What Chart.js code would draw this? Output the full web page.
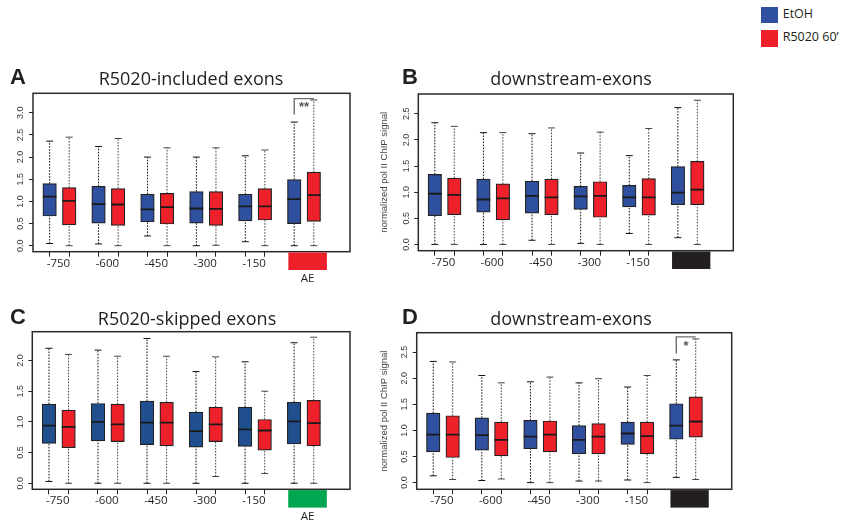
<!DOCTYPE html>
<html><head><meta charset="utf-8">
<script src="https://cdn.jsdelivr.net/npm/chart.js@4.4.1/dist/chart.umd.min.js"></script>
<style>
html,body{margin:0;padding:0;background:#fff;}
body{width:841px;height:522px;position:relative;overflow:hidden;}
canvas{position:absolute;}
.t{position:absolute;white-space:nowrap;color:#231f20;line-height:1;}
.title{font-family:"Open Sans",sans-serif;font-size:18px;transform:translateX(-50%);}
.let{font-family:"Liberation Sans",Arial,sans-serif;font-weight:bold;font-size:22px;}
.lg{position:absolute;width:17.6px;height:16.6px;}
.lgt{font-family:"Open Sans",sans-serif;font-size:12.5px;}
</style></head>
<body>
<canvas id="cA" width="365" height="240" style="left:0;top:60px"></canvas>
<canvas id="cB" width="380" height="240" style="left:365px;top:60px"></canvas>
<canvas id="cC" width="365" height="222" style="left:0;top:300px"></canvas>
<canvas id="cD" width="380" height="222" style="left:365px;top:300px"></canvas>

<div class="t let" style="left:10px;top:66px">A</div>
<div class="t title" style="left:191px;top:69px">R5020-included exons</div>
<div class="t let" style="left:402px;top:66px">B</div>
<div class="t title" style="left:571px;top:69px">downstream-exons</div>
<div class="t let" style="left:10px;top:306px">C</div>
<div class="t title" style="left:187px;top:309px">R5020-skipped exons</div>
<div class="t let" style="left:402px;top:306px">D</div>
<div class="t title" style="left:571px;top:309px">downstream-exons</div>

<div class="lg" style="left:760.7px;top:6.7px;background:#2f4f9f"></div>
<div class="t lgt" style="left:782.7px;top:8px">EtOH</div>
<div class="lg" style="left:760.7px;top:30px;background:#ee2029"></div>
<div class="t lgt" style="left:782.7px;top:31px">R5020 60’</div>

<script>
// ---------- data ----------
const categories = ['-750', '-600', '-450', '-300', '-150', 'AE'];
const seriesNames = ['EtOH', 'R5020 60’'];
const yTicksA = [0, 0.5, 1, 1.5, 2, 2.5, 3];
const yTicksB = [0, 0.5, 1, 1.5, 2, 2.5];
const yTicksC = [0, 0.5, 1, 1.5, 2];
const yTicksD = [0, 0.5, 1, 1.5, 2, 2.5];
// each box: [lower whisker, Q1, median, Q3, upper whisker]
const aEtoh  = [[0.05,0.67,1.11,1.40,2.36],[0.04,0.51,0.94,1.34,2.24],[0.22,0.54,0.82,1.16,2.00],[0.00,0.51,0.84,1.22,2.00],[0.09,0.56,0.89,1.16,2.03],[0.00,0.50,1.05,1.49,2.79]];
const aR5020 = [[0.00,0.47,1.01,1.31,2.45],[0.00,0.46,0.93,1.29,2.42],[0.00,0.49,0.87,1.18,2.21],[0.01,0.46,0.83,1.22,2.21],[0.00,0.58,0.89,1.29,2.16],[0.00,0.55,1.14,1.66,3.29]];
const bEtoh  = [[0.00,0.55,0.97,1.34,2.33],[0.00,0.62,0.86,1.25,2.14],[0.08,0.60,0.93,1.21,2.12],[0.02,0.67,0.92,1.11,1.75],[0.21,0.72,0.90,1.13,1.70],[0.13,0.76,0.99,1.49,2.62]];
const bR5020 = [[0.00,0.57,0.95,1.27,2.26],[0.00,0.47,0.88,1.16,2.14],[0.00,0.57,0.90,1.25,2.23],[0.00,0.52,0.93,1.20,2.15],[0.00,0.56,0.90,1.26,2.22],[0.00,0.76,1.05,1.59,2.76]];
const cEtoh  = [[0.03,0.65,0.94,1.29,2.20],[0.00,0.69,1.00,1.30,2.17],[0.00,0.63,0.99,1.34,2.36],[0.00,0.59,0.85,1.16,1.82],[0.00,0.60,0.88,1.24,1.98],[0.00,0.64,1.01,1.32,2.29]];
const cR5020 = [[0.00,0.58,0.92,1.19,2.10],[0.00,0.68,0.96,1.29,2.07],[0.00,0.61,0.99,1.32,2.07],[0.11,0.68,0.96,1.24,2.06],[0.16,0.54,0.86,1.04,1.50],[0.00,0.61,0.98,1.35,2.38]];
const dEtoh  = [[0.13,0.59,0.92,1.33,2.32],[0.04,0.62,0.91,1.24,2.05],[0.00,0.65,0.88,1.19,1.93],[0.03,0.55,0.82,1.09,1.91],[0.05,0.73,0.94,1.16,1.83],[0.10,0.83,1.09,1.51,2.35]];
const dR5020 = [[0.06,0.48,0.92,1.28,2.31],[0.07,0.51,0.82,1.16,1.91],[0.00,0.59,0.92,1.18,2.02],[0.03,0.55,0.88,1.13,1.99],[0.00,0.55,0.89,1.16,2.05],[0.06,0.87,1.17,1.64,2.75]];
// significance brackets: [label, lower end, bracket top]
const sigA = ['**', 2.96, 3.32];
const sigD = ['*', 2.47, 2.79];

// ---------- drawing ----------
const RED = '#ee2029';
const pos = (i, s) => 1 + 2.5 * i + s;   // box position on x scale
const labelPos = i => 1.45 + 2.5 * i;

const extras = {
  id: 'extras',
  afterDraw(chart, args, o) {
    const {ctx, chartArea: a, scales: {x, y}} = chart;
    ctx.save();
    ctx.strokeStyle = '#2a2a2a';
    ctx.lineWidth = 1.5;
    ctx.strokeRect(a.left, a.top, a.right - a.left, a.bottom - a.top);
    const x0 = x.getPixelForValue(13.2), x1 = x.getPixelForValue(15.17);
    ctx.fillStyle = o.rectColor;
    ctx.fillRect(x0, a.bottom + 0.8, x1 - x0, 17.5);
    if (o.rectLabel) {
      ctx.fillStyle = '#231f20';
      ctx.font = '11.5px "Open Sans"';
      ctx.textAlign = 'center';
      ctx.textBaseline = 'middle';
      ctx.fillText(o.rectLabel, (x0 + x1) / 2, a.bottom + 27);
    }
    if (o.sig) {
      const [txt, lo, hi] = o.sig;
      const xl = x.getPixelForValue(pos(5, 0)), xr = x.getPixelForValue(pos(5, 1));
      const yl = y.getPixelForValue(lo), yh = y.getPixelForValue(hi);
      ctx.strokeStyle = '#6d6d6d';
      ctx.lineWidth = 1.4;
      ctx.beginPath();
      ctx.moveTo(xl, yl); ctx.lineTo(xl, yh); ctx.lineTo(xr, yh);
      ctx.stroke();
      ctx.fillStyle = '#555';
      ctx.font = 'bold 13px "Liberation Sans"';
      ctx.textAlign = 'center';
      ctx.textBaseline = 'middle';
      ctx.fillText(txt, (xl + xr) / 2, yh + (yl - yh) * 0.45 + 2);
    }
    ctx.restore();
  }
};

function makeChart(id, cfg) {
  const datasets = [];
  [[cfg.etoh, cfg.blue, 0, '#111'], [cfg.r5020, RED, 1, '#444']].forEach(([rows, color, s, wc], k) => {
    datasets.push({
      type: 'bar', label: seriesNames[k],
      data: rows.map((r, i) => ({x: pos(i, s), y: [r[1], r[3]]})),
      backgroundColor: color, borderColor: '#222', borderWidth: 1.2, borderSkipped: false,
      barThickness: 13.5, grouped: false, order: 2
    });
    datasets.push({
      type: 'scatter',
      data: rows.map((r, i) => ({x: pos(i, s), y: r[2]})),
      pointStyle: 'line', pointRadius: 6.8, pointBorderWidth: 1.8, pointBorderColor: '#1a1a1a', order: 1
    });
    const w = [];
    rows.forEach((r, i) => {
      const xv = pos(i, s);
      w.push({x: xv, y: r[0]}, {x: xv, y: r[1]}, {x: xv, y: null}, {x: xv, y: r[3]}, {x: xv, y: r[4]}, {x: xv, y: null});
    });
    datasets.push({
      type: 'line', data: w, borderColor: wc, borderWidth: 1, borderDash: [1.6, 1.4],
      pointRadius: 0, spanGaps: false, fill: false, tension: 0, order: 4
    });
    datasets.push({
      type: 'scatter',
      data: rows.flatMap((r, i) => [{x: pos(i, s), y: r[0]}, {x: pos(i, s), y: r[4]}]),
      pointStyle: 'line', pointRadius: 3.5, pointBorderWidth: 1, pointBorderColor: wc, order: 3
    });
  });

  const xt = [], xl = [];
  for (let i = 0; i < 5; i++) {
    xt.push(pos(i, 0)); xl.push('');
    xt.push(labelPos(i)); xl.push(categories[i]);
    xt.push(pos(i, 1)); xl.push('');
  }
  const isLabel = v => xl[xt.indexOf(v)] !== '';

  new Chart(document.getElementById(id), {
    type: 'bar',
    data: {datasets},
    plugins: [extras],
    options: {
      responsive: false, animation: false, events: [],
      layout: {padding: {left: 0, top: cfg.top, right: cfg.right, bottom: 0}},
      plugins: {legend: {display: false}, tooltip: {enabled: false},
        extras: {rectColor: cfg.rectColor, rectLabel: cfg.rectLabel, sig: cfg.sig}},
      scales: {
        x: {
          type: 'linear', min: 0.15, max: 16.35, offset: false,
          afterBuildTicks: sc => { sc.ticks = xt.map(v => ({value: v})); },
          afterFit: sc => { sc.height = cfg.xh; },
          ticks: {autoSkip: false, maxRotation: 0, minRotation: 0, padding: 0,
            font: {family: 'Open Sans', size: 11.5}, color: '#231f20',
            callback: (v, i) => xl[i]},
          grid: {display: true, offset: false, drawOnChartArea: false, drawTicks: true, tickLength: 5, tickWidth: 1,
            tickColor: c => (c.tick && isLabel(c.tick.value)) ? 'rgba(0,0,0,0)' : '#222'},
          border: {display: false}
        },
        y: {
          type: 'linear', min: cfg.ymin, max: cfg.ymax,
          afterBuildTicks: sc => { sc.ticks = cfg.yticks.map(v => ({value: v})); },
          afterFit: sc => { sc.width = cfg.yw; },
          ticks: {minRotation: 90, crossAlign: 'center', padding: 2,
            font: {family: 'Liberation Sans', size: 9}, color: '#333',
            callback: v => Number(v).toFixed(1)},
          grid: {display: true, drawOnChartArea: false, tickLength: 4, tickColor: '#222'},
          border: {display: false},
          title: cfg.ytitle ? {display: true, text: cfg.ytitle, color: '#444',
            font: {family: 'Liberation Sans', size: 9.5}, padding: {top: 14, bottom: 0}} : {display: false}
        }
      }
    }
  });
}

makeChart('cA', {etoh: aEtoh, r5020: aR5020, blue: '#2f4f9f', yticks: yTicksA, ymin: -0.135, ymax: 3.44,
  top: 33.3, right: 15, yw: 33, xh: 48.3, rectColor: '#ee2029', rectLabel: 'AE', sig: sigA});
makeChart('cB', {etoh: bEtoh, r5020: bR5020, blue: '#2f4f9f', yticks: yTicksB, ymin: -0.12, ymax: 2.88,
  top: 34, right: 11.7, yw: 53.3, xh: 49.3, rectColor: '#231f20', rectLabel: '', sig: null,
  ytitle: 'normalized pol II ChIP signal'});
makeChart('cC', {etoh: cEtoh, r5020: cR5020, blue: '#1f4f8f', yticks: yTicksC, ymin: -0.098, ymax: 2.47,
  top: 31.7, right: 15, yw: 32.3, xh: 32.7, rectColor: '#00a650', rectLabel: 'AE', sig: null});
makeChart('cD', {etoh: dEtoh, r5020: dR5020, blue: '#2f4f9f', yticks: yTicksD, ymin: -0.128, ymax: 2.87,
  top: 32.7, right: 13.3, yw: 51.7, xh: 32.7, rectColor: '#231f20', rectLabel: '', sig: sigD,
  ytitle: 'normalized pol II ChIP signal'});
</script>
</body></html>
